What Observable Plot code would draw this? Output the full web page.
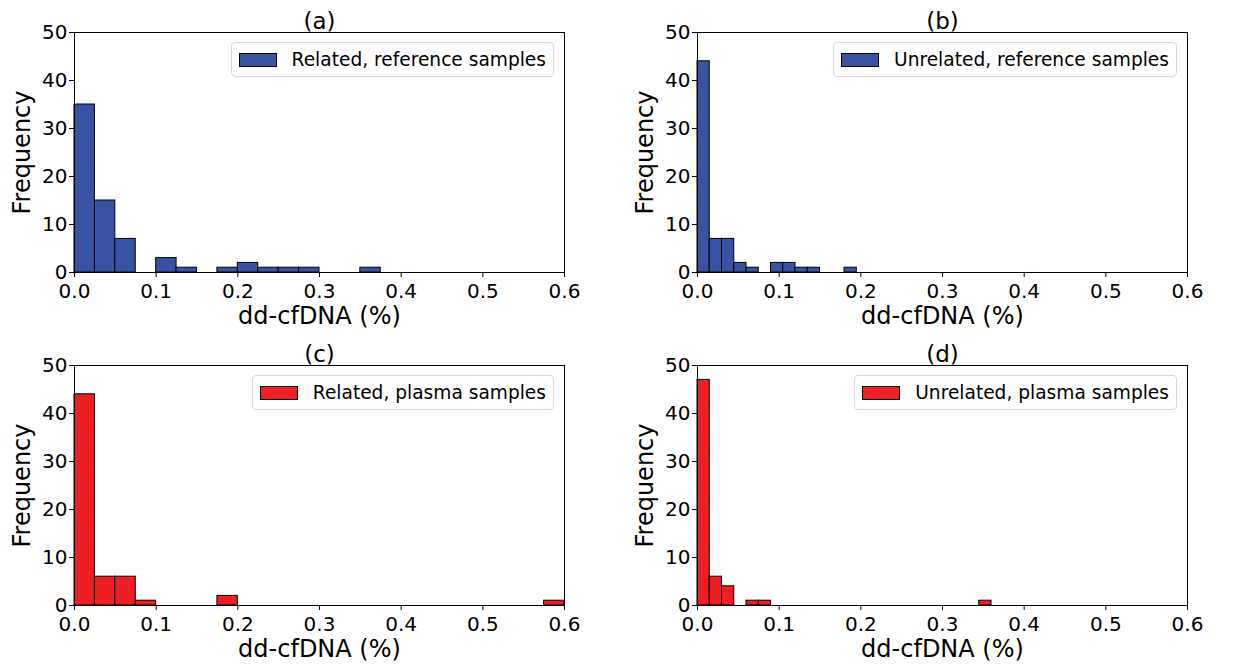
<!DOCTYPE html>
<html><head><meta charset="utf-8">
<script src="https://cdn.jsdelivr.net/npm/d3@7"></script>
<script src="https://cdn.jsdelivr.net/npm/@observablehq/plot@0.6"></script>
<style>
body{margin:0;background:#fff;font-family:"DejaVu Sans",sans-serif;}
#root{position:relative;width:1251px;height:665px;overflow:hidden;}
.panel{position:absolute;}
.legend{position:absolute;display:flex;align-items:center;border:1px solid #d9d9d9;border-radius:4px;background:rgba(255,255,255,0.8);padding:0 7px;height:35px;font-size:18.6px;color:#000;box-sizing:border-box;white-space:nowrap;}
.swatch{width:38px;height:14px;border:1px solid #000;box-sizing:border-box;margin-right:15px;}
</style></head><body><div id="root"></div>
<script>
// ---- data ----
const xTicks = [0, 0.1, 0.2, 0.3, 0.4, 0.5, 0.6];
const yTicks = [0, 10, 20, 30, 40, 50];
const xLabel = "dd-cfDNA (%)";
const yLabel = "Frequency";
const titles = ["(a)", "(b)", "(c)", "(d)"];
const legendLabels = ["Related, reference samples", "Unrelated, reference samples", "Related, plasma samples", "Unrelated, plasma samples"];
// bin widths (in %) and counts per bin starting at 0
const binWidthA = 0.025;
const countsA = [35, 15, 7, 0, 3, 1, 0, 1, 2, 1, 1, 1, 0, 0, 1, 0, 0, 0, 0, 0, 0, 0];
const binWidthB = 0.015;
const countsB = [44, 7, 7, 2, 1, 0, 2, 2, 1, 1, 0, 0, 1, 0, 0, 0, 0, 0, 0, 0, 0, 0, 0, 0];
const binWidthC = 0.025;
const countsC = [44, 6, 6, 1, 0, 0, 0, 2, 0, 0, 0, 0, 0, 0, 0, 0, 0, 0, 0, 0, 0, 0, 0, 1];
const binWidthD = 0.015;
const countsD = [47, 6, 4, 0, 1, 1, 0, 0, 0, 0, 0, 0, 0, 0, 0, 0, 0, 0, 0, 0, 0, 0, 0, 1];
const blue = "#3953a4";
const red = "#ed1f24";

const panels = [
  {counts: countsA, bw: binWidthA, color: blue, title: titles[0], legend: legendLabels[0], left: 0, top: 0, w: 625, ml: 74},
  {counts: countsB, bw: binWidthB, color: blue, title: titles[1], legend: legendLabels[1], left: 622, top: 0, w: 626, ml: 75},
  {counts: countsC, bw: binWidthC, color: red, title: titles[2], legend: legendLabels[2], left: 0, top: 333, w: 625, ml: 74},
  {counts: countsD, bw: binWidthD, color: red, title: titles[3], legend: legendLabels[3], left: 622, top: 333, w: 626, ml: 75}
];
const MR = 61, MT = 32, MB = 60, H = 332;

const root = document.getElementById("root");
for (const p of panels) {
  const rows = p.counts.map((c, i) => ({x1: i * p.bw, x2: (i + 1) * p.bw, y: c}));
  const chart = Plot.plot({
    width: p.w, height: H,
    marginLeft: p.ml, marginRight: MR, marginTop: MT, marginBottom: MB,
    style: {fontFamily: "DejaVu Sans", background: "transparent", overflow: "visible", color: "black"},
    x: {domain: [0, 0.6]},
    y: {domain: [0, 50]},
    marks: [
      Plot.rectY(rows, {x1: "x1", x2: "x2", y: "y", fill: p.color, stroke: "black", strokeWidth: 1, inset: 0}),
      Plot.frame({stroke: "black", strokeWidth: 1}),
      Plot.axisX({ticks: xTicks, tickFormat: d => d.toFixed(1), tickSize: 5, tickPadding: 6, fontSize: 20, label: null}),
      Plot.axisY({ticks: yTicks, tickSize: 5, tickPadding: 2, fontSize: 20, label: null}),
      Plot.text([xLabel], {frameAnchor: "bottom", text: d => d, dy: 44, fontSize: 24, lineAnchor: "middle"}),
      Plot.text([yLabel], {frameAnchor: "left", text: d => d, dx: -52, rotate: -90, textAnchor: "middle", lineAnchor: "middle", fontSize: 24}),
      Plot.text([p.title], {frameAnchor: "top", text: d => d, dy: -4, lineAnchor: "bottom", fontSize: 23})
    ]
  });
  const div = document.createElement("div");
  div.className = "panel";
  div.style.left = p.left + "px";
  div.style.top = p.top + "px";
  div.style.width = p.w + "px";
  div.style.height = H + "px";
  div.appendChild(chart);
  const lg = document.createElement("div");
  lg.className = "legend";
  lg.style.right = (MR + 10) + "px";
  lg.style.top = (MT + 10) + "px";
  const sw = document.createElement("span");
  sw.className = "swatch";
  sw.style.background = p.color;
  const tx = document.createElement("span");
  tx.textContent = p.legend;
  lg.appendChild(sw);
  lg.appendChild(tx);
  div.appendChild(lg);
  root.appendChild(div);
}
</script></body></html>
